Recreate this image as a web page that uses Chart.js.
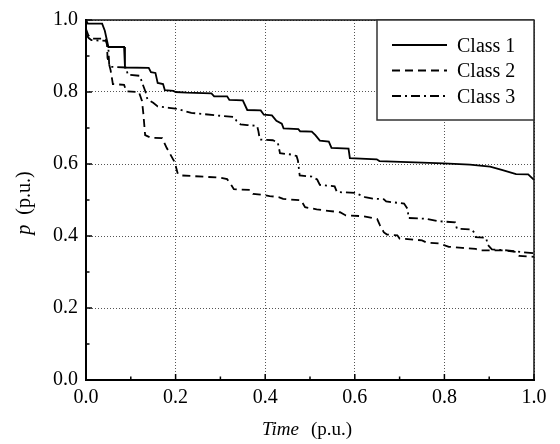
<!DOCTYPE html>
<html><head><meta charset="utf-8">
<script src="https://cdn.jsdelivr.net/npm/chart.js@4.4.0/dist/chart.umd.min.js"></script>
<style>html,body{margin:0;padding:0;background:#fff}#wrap{width:560px;height:444px}</style>
</head><body><div id="wrap"><canvas id="c" width="560" height="444"></canvas></div>
<script>
const seriesNames = ['Class 1', 'Class 2', 'Class 3'];

const class1X = [0, 0.004, 0.036, 0.042, 0.05, 0.085, 0.087, 0.14, 0.145, 0.155, 0.16, 0.172, 0.176, 0.195, 0.2, 0.225, 0.28, 0.286, 0.315, 0.32, 0.35, 0.36, 0.39, 0.397, 0.415, 0.425, 0.437, 0.441, 0.474, 0.478, 0.504, 0.512, 0.522, 0.542, 0.548, 0.586, 0.589, 0.649, 0.655, 0.798, 0.857, 0.902, 0.928, 0.96, 0.987, 1.0];
const class1Y = [1.0, 0.99, 0.99, 0.97, 0.925, 0.925, 0.868, 0.867, 0.855, 0.853, 0.825, 0.822, 0.805, 0.803, 0.80, 0.798, 0.796, 0.788, 0.788, 0.778, 0.777, 0.75, 0.749, 0.737, 0.735, 0.72, 0.712, 0.699, 0.697, 0.691, 0.69, 0.68, 0.665, 0.662, 0.645, 0.643, 0.616, 0.613, 0.608, 0.602, 0.598, 0.593, 0.584, 0.572, 0.571, 0.556];

const class2X = [0, 0.005, 0.012, 0.044, 0.047, 0.048, 0.055, 0.06, 0.085, 0.09, 0.118, 0.125, 0.128, 0.132, 0.145, 0.17, 0.18, 0.198, 0.205, 0.215, 0.3, 0.315, 0.325, 0.33, 0.366, 0.373, 0.39, 0.41, 0.43, 0.44, 0.48, 0.489, 0.515, 0.54, 0.567, 0.58, 0.62, 0.65, 0.656, 0.665, 0.672, 0.695, 0.70, 0.75, 0.76, 0.79, 0.81, 0.84, 0.87, 0.88, 0.93, 0.96, 0.967, 1.0];
const class2Y = [0.975, 0.958, 0.948, 0.948, 0.93, 0.895, 0.86, 0.822, 0.82, 0.802, 0.80, 0.775, 0.74, 0.68, 0.673, 0.672, 0.645, 0.605, 0.572, 0.568, 0.562, 0.558, 0.54, 0.53, 0.528, 0.517, 0.515, 0.511, 0.508, 0.503, 0.499, 0.48, 0.474, 0.47, 0.466, 0.457, 0.455, 0.447, 0.43, 0.41, 0.404, 0.402, 0.393, 0.388, 0.382, 0.379, 0.37, 0.367, 0.364, 0.36, 0.36, 0.356, 0.345, 0.342];

const class3X = [0, 0.006, 0.012, 0.045, 0.05, 0.052, 0.09, 0.093, 0.12, 0.127, 0.133, 0.137, 0.15, 0.16, 0.185, 0.2, 0.235, 0.26, 0.29, 0.33, 0.336, 0.345, 0.36, 0.382, 0.385, 0.388, 0.417, 0.428, 0.433, 0.46, 0.47, 0.473, 0.477, 0.504, 0.516, 0.522, 0.538, 0.555, 0.56, 0.6, 0.623, 0.64, 0.665, 0.67, 0.71, 0.718, 0.72, 0.76, 0.786, 0.8, 0.824, 0.828, 0.862, 0.866, 0.87, 0.893, 0.897, 0.906, 0.94, 0.96, 1.0];
const class3Y = [0.96, 0.95, 0.944, 0.942, 0.92, 0.87, 0.868, 0.848, 0.845, 0.82, 0.80, 0.78, 0.77, 0.76, 0.756, 0.754, 0.742, 0.739, 0.735, 0.731, 0.72, 0.71, 0.708, 0.706, 0.69, 0.668, 0.666, 0.66, 0.63, 0.626, 0.622, 0.61, 0.568, 0.565, 0.557, 0.542, 0.54, 0.538, 0.522, 0.52, 0.508, 0.504, 0.502, 0.496, 0.49, 0.475, 0.45, 0.448, 0.441, 0.44, 0.438, 0.42, 0.418, 0.41, 0.397, 0.395, 0.375, 0.363, 0.36, 0.357, 0.352];

const majorTicks = [0.0, 0.2, 0.4, 0.6, 0.8, 1.0];
const minorTicks = [0.1, 0.3, 0.5, 0.7, 0.9];
const xTitleItalic = 'Time';
const xTitleRest = '(p.u.)';
const yTitleItalic = 'p';
const yTitleRest = '(p.u.)';

const seriesX = [class1X, class2X, class3X];
const seriesY = [class1Y, class2Y, class3Y];
const dashes = [[], [8, 5], [9, 4, 2, 4]];

const SERIF = 'Liberation Serif';
const SERIF_CSS = '"Liberation Serif", serif';

const datasets = seriesNames.map((name, i) => ({
  label: name,
  data: seriesX[i].map((x, j) => ({x: x, y: seriesY[i][j]})),
  borderColor: '#000',
  borderWidth: 1.8,
  borderDash: dashes[i],
  pointRadius: 0,
  fill: false,
  tension: 0,
  clip: 3
}));

function seg(ctx, x1, y1, x2, y2) { ctx.beginPath(); ctx.moveTo(x1, y1); ctx.lineTo(x2, y2); ctx.stroke(); }

const decorPlugin = {
  id: 'decor',
  afterDatasetsDraw(chart) {
    const {ctx, chartArea: a, scales: {x, y}} = chart;
    ctx.save();
    ctx.setLineDash([]);
    ctx.strokeStyle = '#000';
    ctx.lineWidth = 1.5;
    majorTicks.forEach(v => {
      const px = x.getPixelForValue(v), py = y.getPixelForValue(v);
      seg(ctx, px, a.bottom, px, a.bottom - 6);
      seg(ctx, a.left, py, a.left + 6, py);
    });
    minorTicks.forEach(v => {
      const px = x.getPixelForValue(v), py = y.getPixelForValue(v);
      seg(ctx, px, a.bottom, px, a.bottom - 3.5);
      seg(ctx, a.left, py, a.left + 3.5, py);
    });
    // frame
    ctx.lineWidth = 1.5;
    ctx.strokeStyle = '#111';
    seg(ctx, a.left, a.top, a.right, a.top);
    seg(ctx, a.right, a.top, a.right, a.bottom);
    ctx.lineWidth = 2;
    ctx.strokeStyle = '#000';
    seg(ctx, a.left, a.top - 1, a.left, a.bottom + 1);
    seg(ctx, a.left - 1, a.bottom, a.right + 1, a.bottom);

    // legend box
    const bx = 377, by = a.top, bw = a.right - 377, bh = 100;
    ctx.fillStyle = '#fff';
    ctx.fillRect(bx, by, bw, bh);
    ctx.lineWidth = 1.5;
    ctx.strokeStyle = '#333';
    ctx.strokeRect(bx, by, bw, bh);
    ctx.font = '20px ' + SERIF_CSS;
    ctx.fillStyle = '#000';
    ctx.textBaseline = 'alphabetic';
    ctx.textAlign = 'left';
    seriesNames.forEach((name, i) => {
      const ly = by + 25 + i * 25.5;
      ctx.setLineDash(dashes[i]);
      ctx.lineWidth = 1.8;
      ctx.strokeStyle = '#000';
      seg(ctx, 392, ly, 447, ly);
      ctx.setLineDash([]);
      ctx.fillText(name, 457, ly + 6.5);
    });
    ctx.restore();
  },
  afterDraw(chart) {
    const {ctx} = chart;
    ctx.save();
    ctx.fillStyle = '#000';
    ctx.textBaseline = 'alphabetic';
    ctx.textAlign = 'left';
    // x title
    ctx.font = 'italic 19px ' + SERIF_CSS;
    const w1 = ctx.measureText(xTitleItalic).width;
    ctx.font = '19px ' + SERIF_CSS;
    const w2 = ctx.measureText(xTitleRest).width;
    const gap = 12;
    const total = w1 + gap + w2;
    const cx = 307;
    let sx = cx - total / 2;
    ctx.font = 'italic 19px ' + SERIF_CSS;
    ctx.fillText(xTitleItalic, sx, 435);
    ctx.font = '19px ' + SERIF_CSS;
    ctx.fillText(xTitleRest, sx + w1 + gap, 435);
    // y title
    ctx.translate(30, 203);
    ctx.rotate(-Math.PI / 2);
    ctx.font = 'italic 20px ' + SERIF_CSS;
    const v1 = ctx.measureText(yTitleItalic).width;
    ctx.font = '20px ' + SERIF_CSS;
    const v2 = ctx.measureText(yTitleRest).width;
    const vgap = 10;
    const vt = v1 + vgap + v2;
    ctx.font = 'italic 20px ' + SERIF_CSS;
    ctx.fillText(yTitleItalic, -vt / 2, 0);
    ctx.font = '20px ' + SERIF_CSS;
    ctx.fillText(yTitleRest, -vt / 2 + v1 + vgap, 0);
    ctx.restore();
  }
};

const tickFont = {family: SERIF, size: 20};

new Chart(document.getElementById('c'), {
  type: 'line',
  data: {datasets: datasets},
  options: {
    responsive: false,
    animation: false,
    devicePixelRatio: 1,
    layout: {padding: {top: 16, right: 26, left: 0, bottom: 0}},
    plugins: {legend: {display: false}, tooltip: {enabled: false}},
    scales: {
      x: {
        type: 'linear', min: 0, max: 1,
        afterBuildTicks: s => { s.ticks = majorTicks.map(v => ({value: v})); },
        afterFit: s => { s.height = 64; },
        ticks: {font: tickFont, color: '#000', padding: 6, maxRotation: 0, autoSkip: false,
          callback: v => Number(v).toFixed(1)},
        grid: {color: '#555', lineWidth: 1, drawTicks: false},
        border: {display: false, dash: [1, 2]}
      },
      y: {
        type: 'linear', min: 0, max: 1,
        afterBuildTicks: s => { s.ticks = majorTicks.map(v => ({value: v})); },
        afterFit: s => { s.width = 86; },
        ticks: {font: tickFont, color: '#000', padding: 8, autoSkip: false,
          callback: v => Number(v).toFixed(1)},
        grid: {color: '#555', lineWidth: 1, drawTicks: false},
        border: {display: false, dash: [1, 2]}
      }
    }
  },
  plugins: [decorPlugin]
});
</script>
</body></html>
